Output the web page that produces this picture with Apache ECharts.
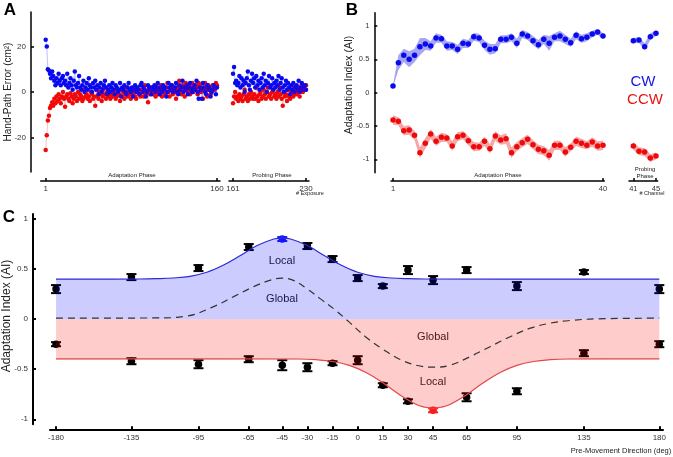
<!DOCTYPE html>
<html>
<head>
<meta charset="utf-8">
<script src="https://cdn.jsdelivr.net/npm/echarts@6/dist/echarts.min.js"></script>
<style>
  html, body { margin: 0; padding: 0; background: #fff; }
  #chart { width: 673px; height: 457px; }
</style>
</head>
<body>
<div id="chart"></div>
<script>
// ---------- A: hand-path error per exposure ----------
const aBlueAdapt = [
  23, 20, 10, 9.5, 8, 6, 9, 7, 5, 3, 6, 4, 8, 5, 3, 6, 7, 4, 5, 3,
  8, 2, 4, 6, 3, 1, 5, 9, 3, 2, 4, 7, 2, 1, 3, 5, 0, 2, 4, 1,
  6, 3, 2, 0, 4, 2, 5, 1, 3, -1, 2, 4, 0, 1, 3, 5, 2, -1, 1, 3,
  0, 2, 4, 1, -1, 3, 2, 0, 1, 4, -2, 2, 1, 3, 0, -1, 2, 4, 1, 0,
  2, -2, 1, 3, 0, 2, 1, -1, 3, 4, 0, 2, 1, -2, 0, 3, 2, 1, -1, 2,
  1, 3, 0, 2, 4, 1, -1, 2, 0, 3, 1, 2, -2, 0, 4, 2, 1, 3, 0, 1,
  2, 4, 0, -1, 3, 1, 2, 5, 0, 2, 1, 3, -1, 2, 4, 1, 0, 2, 3, 1,
  5, 0, -3, 2, 1, -3, 4, 2, 0, -1, 3, 1, 2, -2, 0, 1, 3, 2, -1, 2
];
const aRedAdapt = [
  -25.5, -19, -12.5, -10.5, -7, -6, -4.5, -6, -3, -5, -2, -4, -1, -3, -5, -2, 0, -3, -6.5, -2,
  -1, -3, -4, -0.5, -2, -5, -3, -1, -2, -4, 0, -3, -1, -2, -4, -3, 1, -2, -1, -3,
  -2, -4, 0, -1, -3, -2, -6, 1, -2, -3, 0, -1, -4, -2, 2, -1, -3, 0, -2, -1,
  -3, 0, -2, -1, 1, -3, -2, 0, -1, -4, 1, -2, 0, -3, -1, 2, -2, 0, -1, -3,
  0, -1, 2, -2, -3, 0, 1, -1, -2, 1, 0, -2, 3, -1, 0, -4.5, 1, -1, 2, 0,
  -1, 1, -2, 0, 2, -1, 1, 3, -2, 0, 1, -1, 2, 4, 0, -2, 1, 3, -1, 2,
  0, -3, 2, 1, 5, 0, -1, 3, 2, -2, 4, 1, 0, 3, -1, 2, 4, 0, 1, 3,
  2, -1, 4, 3, 0, 2, -3, 1, 4, 2, -2, 3, 1, -1, 0, 3, 2, 1, 4, 3
];
const aBlueProbe = [
  8, 11, 4, 5, 3, 4, 7, 2, 6, 3, 5, 0, 4, 6, 9, 3, 1, 5, 8, 4,
  6, 2, 7, 3, 5, 1, 4, 6, 2, 8, 3, 5, 0, 4, 7, 2, 3, 6, 1, 4,
  2, 5, 3, 7, 1, 4, 6, 2, 0, 3, 5, 1, 4, 2, -1, 3, 1, 4, 0, 2,
  3, 1, 5, 0, 2, 4, 1, 2, 3, 1
];
const aRedProbe = [
  -5, -2, 0, -3, -2, -4, -1, -3, -2, -4, -1, 1, -3, -2, -4, -1, -3, 0, -2, -3,
  -1, -3, 2, -2, -4, -1, 0, -3, -2, 1, -1, -3, 0, 2, -2, -1, -3, 0, 1, -2,
  -1, -3, 0, -2, 2, -1, -3, -6, 0, -2, -1, -4, 1, -2, -3, 0, -1, -2, 2, 0,
  -1, 2, 0, -2, 1, 3, 0, 2, 1, 3
];
const aFirstProbe = 161;

// ---------- B: adaptation index per channel trial ----------
const bBlue = [0.10, 0.45, 0.56, 0.50, 0.56, 0.69, 0.73, 0.70, 0.82, 0.81,
  0.70, 0.70, 0.65, 0.74, 0.73, 0.84, 0.82, 0.71, 0.65, 0.66,
  0.80, 0.80, 0.83, 0.74, 0.88, 0.85, 0.78, 0.72, 0.80, 0.74,
  0.83, 0.85, 0.80, 0.75, 0.86, 0.81, 0.83, 0.88, 0.91, 0.85];
const bBlueSem = [0.02, 0.11, 0.10, 0.12, 0.10, 0.13, 0.09, 0.07, 0.07, 0.06,
  0.07, 0.06, 0.07, 0.07, 0.06, 0.06, 0.06, 0.07, 0.08, 0.07,
  0.06, 0.06, 0.06, 0.07, 0.06, 0.06, 0.07, 0.07, 0.07, 0.11,
  0.06, 0.08, 0.07, 0.06, 0.06, 0.06, 0.06, 0.05, 0.04, 0.04];
const bRed = [-0.41, -0.43, -0.57, -0.56, -0.64, -0.90, -0.76, -0.62, -0.73, -0.67,
  -0.68, -0.80, -0.66, -0.64, -0.72, -0.81, -0.81, -0.73, -0.84, -0.65,
  -0.71, -0.69, -0.90, -0.81, -0.75, -0.70, -0.78, -0.85, -0.87, -0.94,
  -0.79, -0.79, -0.89, -0.82, -0.73, -0.76, -0.79, -0.74, -0.80, -0.79];
const bRedSem = [0.07, 0.06, 0.07, 0.07, 0.07, 0.08, 0.08, 0.07, 0.07, 0.07,
  0.06, 0.07, 0.07, 0.06, 0.07, 0.07, 0.06, 0.07, 0.07, 0.07,
  0.07, 0.08, 0.08, 0.07, 0.07, 0.07, 0.07, 0.07, 0.07, 0.08,
  0.07, 0.07, 0.07, 0.06, 0.07, 0.07, 0.06, 0.07, 0.07, 0.07];
const bBlueProbe = [0.78, 0.79, 0.69, 0.84, 0.89];
const bBlueProbeSem = [0.04, 0.04, 0.05, 0.05, 0.04];
const bRedProbe = [-0.80, -0.88, -0.89, -0.98, -0.95];
const bRedProbeSem = [0.06, 0.06, 0.06, 0.06, 0.05];
const bFirstProbe = 41;

// ---------- C: generalisation over movement direction ----------
const cDirs = [-180, -135, -95, -65, -45, -30, -15, 0, 15, 30, 45, 65, 95, 135, 180];
const cCwMean = [0.30, 0.42, 0.51, 0.72, 0.80, 0.73, 0.60, 0.41, 0.33, 0.49, 0.39, 0.49, 0.33, 0.47, 0.30];
const cCwErr = [0.04, 0.03, 0.03, 0.03, 0.02, 0.03, 0.03, 0.03, 0.02, 0.04, 0.04, 0.03, 0.04, 0.02, 0.04];
const cCcwMean = [-0.25, -0.42, -0.45, -0.40, -0.46, -0.48, -0.44, -0.41, -0.66, -0.82, -0.91, -0.78, -0.72, -0.34, -0.25];
const cCcwErr = [0.02, 0.03, 0.04, 0.03, 0.05, 0.04, 0.02, 0.04, 0.02, 0.02, 0.02, 0.04, 0.03, 0.03, 0.03];
const cwTrainedDir = -45;
const ccwTrainedDir = 45;
const cwBase = 0.40;
const ccwBase = -0.40;
const localCwX = [-180, -130, -120, -110, -100, -90, -80, -70, -60, -50, -45, -40, -30, -20, -10, 0, 10, 20, 30, 40, 180];
const localCwY = [0.40, 0.401, 0.404, 0.411, 0.428, 0.468, 0.54, 0.635, 0.735, 0.80, 0.81, 0.80, 0.735, 0.635, 0.54, 0.468, 0.428, 0.411, 0.404, 0.401, 0.40];
const localCcwX = [-180, -35, -25, -15, -5, 5, 15, 25, 35, 40, 45, 50, 55, 65, 75, 85, 95, 105, 115, 125, 180];
const localCcwY = [-0.397, -0.398, -0.405, -0.423, -0.462, -0.533, -0.636, -0.754, -0.852, -0.878, -0.89, -0.878, -0.852, -0.754, -0.636, -0.533, -0.462, -0.423, -0.405, -0.398, -0.397];
const globalX = [-180, -120, -102, -86, -74, -62, -52, -45, -38, -30, -22, -14, -5, 5, 15, 25, 35, 45, 55, 67, 79, 91, 103, 115, 127, 143, 180];
const globalY = [0.01, 0.012, 0.03, 0.125, 0.225, 0.325, 0.39, 0.41, 0.385, 0.30, 0.20, 0.10, -0.03, -0.18, -0.30, -0.40, -0.46, -0.48, -0.46, -0.375, -0.275, -0.175, -0.09, -0.04, -0.013, 0.003, 0.01];

const FONT = 'Liberation Sans';
const BLUE = '#0a0aee';
const RED = '#ee0a0a';

function pairs(xs, ys) { return xs.map((x, i) => [x, ys[i]]); }
function seq(start, n) { const r = []; for (let i = 0; i < n; i++) r.push(start + i); return r; }

const aXAdapt = seq(1, aBlueAdapt.length);
const aXProbe = seq(aFirstProbe, aBlueProbe.length);
const bXAdapt = seq(1, bBlue.length);
const bXProbe = seq(bFirstProbe, bBlueProbe.length);

function xAxisCfg(grid, min, max, offset, ticks, fontSize, lw) {
  return {
    type: 'value', gridIndex: grid, min: min, max: max, offset: offset, position: 'bottom',
    axisLine: { show: true, onZero: false, lineStyle: { color: '#000', width: lw } },
    axisTick: { show: true, inside: true, length: 3, customValues: ticks, lineStyle: { color: '#000', width: lw } },
    axisLabel: { customValues: ticks, fontSize: fontSize, color: '#333', fontFamily: FONT, margin: 4 },
    splitLine: { show: false }
  };
}
function yAxisCfg(grid, min, max, offset, ticks, fontSize, lw, show) {
  return {
    type: 'value', gridIndex: grid, min: min, max: max, offset: offset, show: show, position: 'left',
    axisLine: { show: true, onZero: false, lineStyle: { color: '#000', width: lw } },
    axisTick: { show: true, inside: true, length: 3, customValues: ticks, lineStyle: { color: '#000', width: lw } },
    axisLabel: { customValues: ticks, fontSize: fontSize, color: '#333', fontFamily: FONT, margin: 5 },
    splitLine: { show: false }
  };
}

function haze(axis, xs, ys, color) {
  return { type: 'line', xAxisIndex: axis, yAxisIndex: axis, data: pairs(xs, ys), symbol: 'none',
    silent: true, lineStyle: { color: color, width: 1.2 } };
}
function dots(axis, xs, ys, color, size) {
  return { type: 'scatter', xAxisIndex: axis, yAxisIndex: axis, data: pairs(xs, ys), symbolSize: size,
    itemStyle: { color: color, opacity: 1 } };
}
// shaded sem band drawn as one polygon through the axis scales
function band(axis, xs, means, sems, fill) {
  return {
    type: 'custom', xAxisIndex: axis, yAxisIndex: axis, silent: true,
    data: [[xs[0], means[0]]],
    renderItem: function (params, api) {
      const upper = xs.map((x, i) => api.coord([x, means[i] + sems[i]]));
      const lower = xs.map((x, i) => api.coord([x, means[i] - sems[i]])).reverse();
      return { type: 'polygon', shape: { points: upper.concat(lower) }, style: { fill: fill } };
    }
  };
}
function errorBars(means, errs, trainedDir, trainedColor) {
  return {
    type: 'custom', xAxisIndex: 4, yAxisIndex: 4,
    data: cDirs.map((d, i) => [d, means[i], errs[i]]),
    renderItem: function (params, api) {
      const x = api.value(0), m = api.value(1), e = api.value(2);
      const lo = api.coord([x, m - e]);
      const hi = api.coord([x, m + e]);
      const style = { stroke: x === trainedDir ? trainedColor : '#000', lineWidth: 2 };
      const w = 5;
      return { type: 'group', children: [
        { type: 'line', shape: { x1: lo[0], y1: lo[1], x2: hi[0], y2: hi[1] }, style: style },
        { type: 'line', shape: { x1: lo[0] - w, y1: lo[1], x2: lo[0] + w, y2: lo[1] }, style: style },
        { type: 'line', shape: { x1: hi[0] - w, y1: hi[1], x2: hi[0] + w, y2: hi[1] }, style: style }
      ] };
    }
  };
}
function cPoints(means, trainedDir, trainedColor) {
  return { type: 'scatter', xAxisIndex: 4, yAxisIndex: 4, data: pairs(cDirs, means), symbolSize: 7.5,
    itemStyle: { opacity: 1, color: function (p) { return p.value[0] === trainedDir ? trainedColor : '#000'; } } };
}
function fillLine(xs, ys, base, fill, stroke) {
  return { type: 'line', xAxisIndex: 4, yAxisIndex: 4, data: pairs(xs, ys), symbol: 'none', smooth: 0.4,
    silent: true, lineStyle: { color: stroke, width: stroke === 'none' ? 0 : 1.2 },
    areaStyle: { origin: base, color: fill, opacity: 1 } };
}

function txt(x, y, s, size, opts) {
  return Object.assign({ type: 'text', x: x, y: y, silent: true,
    style: Object.assign({ text: s, fontSize: size, fontFamily: FONT, fill: '#222',
      align: 'center', verticalAlign: 'middle' }, (opts && opts.style) || {}) },
    (opts && opts.el) || {});
}

const option = {
  animation: false,
  grid: [
    { left: 40.7, top: 12, width: 179.3, height: 160 },
    { left: 229, top: 12, width: 80, height: 160 },
    { left: 391, top: 12.7, width: 213.3, height: 160 },
    { left: 629, top: 12.7, width: 28.7, height: 160 },
    { left: 50, top: 214, width: 613, height: 210.3 }
  ],
  xAxis: [
    xAxisCfg(0, -3.64, 162.8, 9, [1, 160], 8, 1.5),
    xAxisCfg(1, 157.2, 232.8, 9, [161, 230], 8, 1.5),
    xAxisCfg(2, 0.63, 40.24, 8.3, [1, 40], 7.5, 1.5),
    xAxisCfg(3, 40.24, 45.3, 8.3, [41, 45], 7.5, 1.5),
    xAxisCfg(4, -183.6, 182.2, 5, cDirs, 8, 2)
  ],
  yAxis: [
    yAxisCfg(0, -35.2, 35.2, 9.7, [-20, 0, 20], 8, 1.5, true),
    yAxisCfg(1, -35.2, 35.2, 0, [], 8, 1.5, false),
    yAxisCfg(2, -1.2, 1.2, 16.7, [-1, -0.5, 0, 0.5, 1], 7.5, 1.5, true),
    yAxisCfg(3, -1.2, 1.2, 0, [], 7.5, 1.5, false),
    yAxisCfg(4, -1.05, 1.05, 17, [-1, -0.5, 0, 0.5, 1], 8, 2, true)
  ],
  series: [
    haze(0, aXAdapt, aRedAdapt, 'rgba(255,0,0,0.22)'),
    haze(0, aXAdapt, aBlueAdapt, 'rgba(0,0,255,0.22)'),
    haze(1, aXProbe, aRedProbe, 'rgba(255,0,0,0.22)'),
    haze(1, aXProbe, aBlueProbe, 'rgba(0,0,255,0.22)'),
    dots(0, aXAdapt, aRedAdapt, RED, 4.5),
    dots(0, aXAdapt, aBlueAdapt, BLUE, 4.5),
    dots(1, aXProbe, aRedProbe, RED, 4.5),
    dots(1, aXProbe, aBlueProbe, BLUE, 4.5),

    band(2, bXAdapt, bBlue, bBlueSem, '#a6a6f3'),
    band(2, bXAdapt, bRed, bRedSem, '#f6a8a8'),
    band(3, bXProbe, bBlueProbe, bBlueProbeSem, '#a6a6f3'),
    band(3, bXProbe, bRedProbe, bRedProbeSem, '#f6a8a8'),
    dots(2, bXAdapt, bBlue, BLUE, 5.5),
    dots(2, bXAdapt, bRed, RED, 5.5),
    dots(3, bXProbe, bBlueProbe, BLUE, 5.5),
    dots(3, bXProbe, bRedProbe, RED, 5.5),

    errorBars(cCwMean, cCwErr, cwTrainedDir, '#1a1aff'),
    errorBars(cCcwMean, cCcwErr, ccwTrainedDir, '#ff1a1a'),
    cPoints(cCwMean, cwTrainedDir, '#1a1aff'),
    cPoints(cCcwMean, ccwTrainedDir, '#ff1a1a'),
    fillLine([-180, 180], [cwBase, cwBase], 0, 'rgba(0,0,255,0.2)', 'none'),
    fillLine([-180, 180], [ccwBase, ccwBase], 0, 'rgba(255,0,0,0.2)', 'none'),
    fillLine(localCwX, localCwY, cwBase, 'rgba(0,0,255,0.2)', '#2a2ad8'),
    fillLine(localCcwX, localCcwY, ccwBase, 'rgba(255,0,0,0.2)', '#e04848'),
    { type: 'line', xAxisIndex: 4, yAxisIndex: 4, data: pairs(globalX, globalY), symbol: 'none', smooth: 0.4,
      silent: true, lineStyle: { color: '#333', width: 1.2, type: [7, 5] } }
  ],
  graphic: [
    txt(10, 10, 'A', 17, { style: { fontWeight: 'bold', fill: '#000' } }),
    txt(352, 10, 'B', 17, { style: { fontWeight: 'bold', fill: '#000' } }),
    txt(9, 217, 'C', 17, { style: { fontWeight: 'bold', fill: '#000' } }),
    txt(8, 92, 'Hand-Path Error (cm²)', 10, { el: { rotation: Math.PI / 2 } }),
    txt(349, 85, 'Adaptation Index (AI)', 10.5, { el: { rotation: Math.PI / 2 } }),
    txt(7, 316, 'Adaptation Index (AI)', 12, { el: { rotation: Math.PI / 2 } }),
    txt(132, 175, 'Adaptation Phase', 6),
    txt(272, 175, 'Probing Phase', 6),
    txt(310, 193, '# Exposure', 5.5),
    txt(498, 175, 'Adaptation Phase', 6),
    txt(645, 169, 'Probing', 6),
    txt(645, 176, 'Phase', 6),
    txt(652, 193, '# Channel', 5.5),
    txt(643, 82, 'CW', 15, { style: { fill: '#1414e6' } }),
    txt(645, 100, 'CCW', 15, { style: { fill: '#e61414' } }),
    txt(282, 261, 'Local', 11),
    txt(282, 299, 'Global', 11),
    txt(433, 337, 'Global', 11),
    txt(433, 382, 'Local', 11),
    txt(621, 451, 'Pre-Movement Direction (deg)', 7.5)
  ]
};

const chart = echarts.init(document.getElementById('chart'));
chart.setOption(option);
</script>
</body>
</html>
